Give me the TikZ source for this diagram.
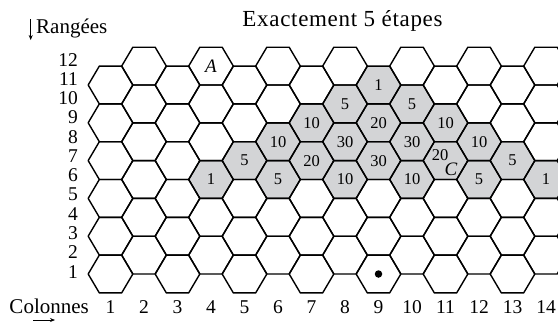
\documentclass[tikz,border=0pt]{standalone}
\usepackage{fontspec}
\setmainfont{Liberation Serif}
\usetikzlibrary{arrows.meta}
\definecolor{cellgray}{RGB}{211,212,214}
\tikzset{
  hexline/.style={line width=1.4pt, line join=round},
  cellnum/.style={font=\fontsize{16.5}{18}\selectfont, inner sep=0pt},
  axisnum/.style={font=\fontsize{19.5}{22}\selectfont, inner sep=0pt},
  axislabel/.style={font=\fontsize{21}{24}\selectfont, inner sep=0pt},
  cellletter/.style={font=\fontsize{19}{22}\selectfont\itshape, inner sep=0pt},
}
\begin{document}
\begin{tikzpicture}[x=33.5pt, y=18.9pt]
  \clip (-2.2985,-1.5397) rectangle (14.3582,15.4974);
  % shaded cells
  \foreach \c/\r in {4/6,5/7,6/8,6/6,7/9,7/7,8/10,8/8,8/6,9/11,9/9,9/7,10/10,10/8,10/6,11/9,11/7,12/8,12/6,13/7,14/6}
    \fill[cellgray] (\c-2/3,\r) -- (\c-1/3,\r+1) -- (\c+1/3,\r+1) -- (\c+2/3,\r) -- (\c+1/3,\r-1) -- (\c-1/3,\r-1) -- cycle;
  % the board
  \foreach \c in {1,...,14}
    \foreach \k in {0,...,5} {
      \pgfmathtruncatemacro{\r}{2*\k+2-mod(\c,2)}
      \draw[hexline] (\c-2/3,\r) -- (\c-1/3,\r+1) -- (\c+1/3,\r+1) -- (\c+2/3,\r) -- (\c+1/3,\r-1) -- (\c-1/3,\r-1) -- cycle;
    }
  % numbers in the cells
  \foreach \c/\r/\v in {4/6/1,5/7/5,6/8/10,6/6/5,7/9/10,7/7/20,8/10/5,8/8/30,8/6/10,9/11/1,9/9/20,9/7/30,10/10/5,10/8/30,10/6/10,11/9/10,12/8/10,12/6/5,13/7/5,14/6/1}
    \node[cellnum] (cell\c-\r) at (\c,\r) {\v};
  \node[cellnum] (cell11-7) at (10.84,7.3) {20};
  \node[cellletter] (cellC) at (11.16,6.56) {C};
  \node[cellletter] (cellA) at (4,12) {A};
  \node[circle, fill, inner sep=0pt, minimum size=7.5pt] (depart) at (9,1) {};
  % rows and columns
  \foreach \r in {1,...,12}
    \node[axisnum, anchor=east] (row\r) at (0.03,1.02*\r+0.1) {\r};
  \foreach \c in {1,...,14}
    \node[axisnum, anchor=base] (col\c) at (\c,-1.116) {\c};
  \node[axislabel, anchor=base west] (colonnes) at (-2.021,-1.116) {Colonnes};
  \coordinate (colstart) at (-1.313,-1.434);
  \coordinate (colend) at (-0.657,-1.434);
  \draw[-{Stealth[length=5pt,width=4pt]}, line width=0.7pt] (colstart) -- (colend);
  \node[axislabel, anchor=base west] (rangees) at (-1.224,13.75) {Rangées};
  \coordinate (rowstart) at (-1.382,14.49);
  \coordinate (rowend) at (-1.382,13.38);
  \draw[-{Stealth[length=5pt,width=4pt]}, line width=0.7pt] (rowstart) -- (rowend);
  \node[axislabel, font=\fontsize{23}{26}\selectfont\addfontfeature{LetterSpace=3}, anchor=base] (titre) at (7.925,14.07) {Exactement 5 étapes};
\end{tikzpicture}
\end{document}
